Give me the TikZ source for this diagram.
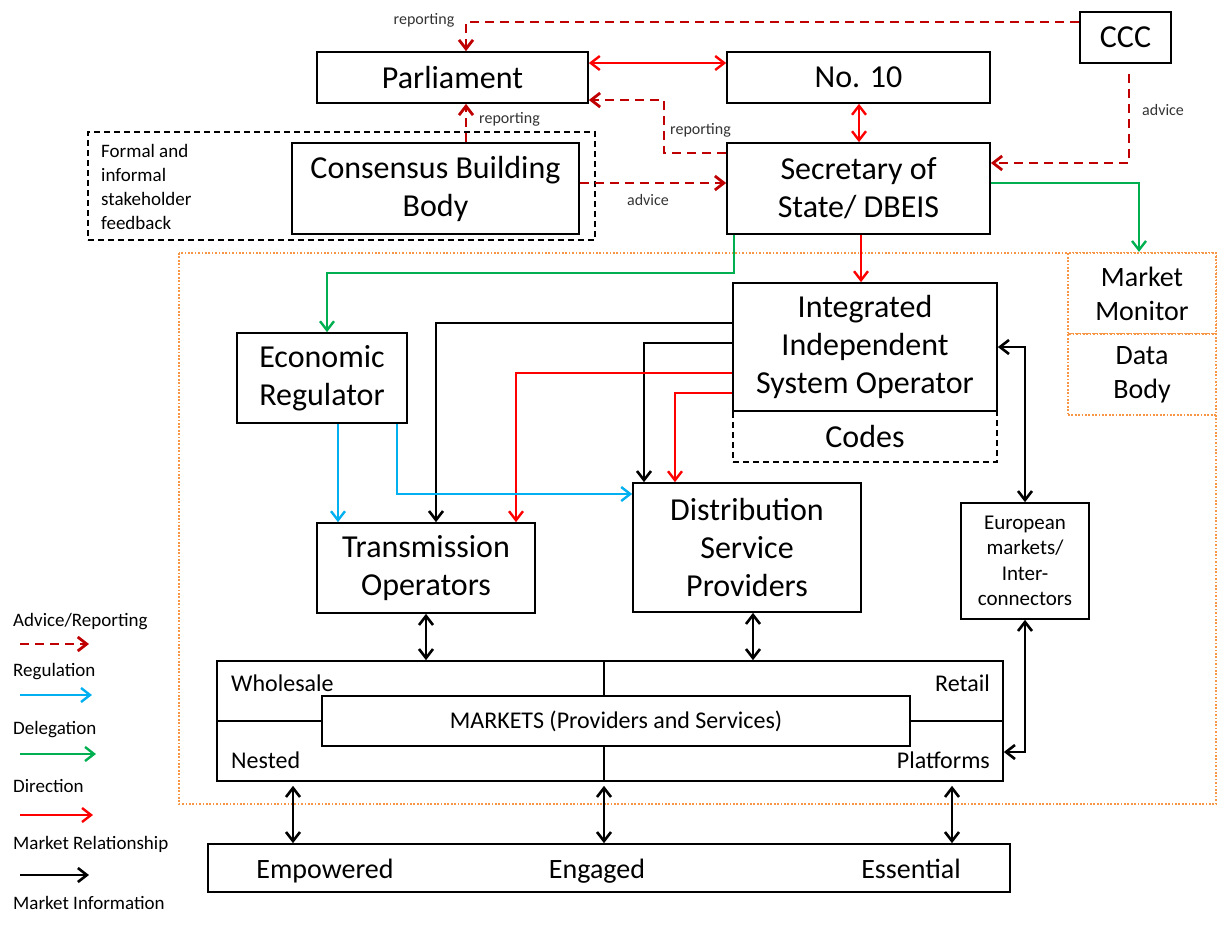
\documentclass[tikz,border=0pt]{standalone}
\usepackage{fontspec}
\setmainfont{Carlito}
\usetikzlibrary{arrows.meta}
\definecolor{advred}{HTML}{C00000}
\definecolor{dirred}{HTML}{FF0000}
\definecolor{regblue}{HTML}{00B0F0}
\definecolor{delgreen}{HTML}{00B050}
\definecolor{dotorange}{HTML}{F79646}
\newcommand\fBig{\fontsize{32}{38}\selectfont}
\newcommand\fMid{\fontsize{28}{34}\selectfont}
\newcommand\fEu{\fontsize{21}{25.5}\selectfont}
\newcommand\fMk{\fontsize{24}{29}\selectfont}
\newcommand\fLg{\fontsize{19}{24}\selectfont}
\newcommand\fSm{\fontsize{16}{19}\selectfont}
\begin{document}
\begin{tikzpicture}[x=1pt,y=-1pt,
  >={Straight Barb[length=9pt,width=14pt]},
  box/.style={draw, line width=1.7pt, inner sep=0pt, align=center, font=\fBig},
  dbox/.style={draw, line width=1.5pt, dash pattern=on 6pt off 4pt, inner sep=0pt, align=center},
  obox/.style={draw=dotorange, line width=2.2pt, dash pattern=on 1.7pt off 1.7pt, inner sep=0pt, align=center, font=\fMid},
  adv/.style={draw=advred, line width=2.8pt, dash pattern=on 9pt off 6pt, ->},
  dirl/.style={draw=dirred, line width=2.4pt, ->},
  regl/.style={draw=regblue, line width=2.4pt, ->},
  dell/.style={draw=delgreen, line width=2.4pt, ->},
  mkl/.style={draw=black, line width=2.6pt, ->},
  lbl/.style={font=\fSm, text=black!80, inner sep=0pt},
  lgd/.style={font=\fLg, anchor=west, inner sep=0pt}
]
\useasboundingbox (0,0) rectangle (1218,932);

% orange dotted region and side boxes
\draw[draw=dotorange, line width=2.2pt, dash pattern=on 1.7pt off 1.7pt] (179,253) rectangle (1216,804);
\node[obox, fill=white, minimum width=148pt, minimum height=81pt] (mm) at (1142,293.5) {Market\\Monitor};
\node[obox, fill=white, minimum width=148pt, minimum height=81pt] (data) at (1142,374.5) {Data\\Body};

% top boxes
\node[box, minimum width=271pt, minimum height=51pt] (parl) at (452.5,77.5) {Parliament};
\node[box, minimum width=263pt, minimum height=51pt] (no10) at (858.5,77.5) {No. 10};
\node[box, minimum width=91pt, minimum height=51pt] (ccc) at (1125.5,37.5) {CCC};
\node[box, minimum width=263pt, minimum height=91pt] (sos) at (858.5,188.5) {Secretary of\\State/ DBEIS};
\node[dbox, minimum width=507pt, minimum height=108pt] (fb) at (341.5,186) {};
\node[font=\fLg, align=left, anchor=west, inner sep=0pt] (fbt) at (101,186.5) {Formal and\\informal\\stakeholder\\feedback};
\node[box, fill=white, minimum width=287pt, minimum height=91pt] (cbb) at (435.5,188.5) {Consensus Building\\Body};

% middle boxes
\node[box, minimum width=170pt, minimum height=90pt] (er) at (322,378) {Economic\\Regulator};
\node[dbox, font=\fBig, minimum width=264pt, minimum height=51pt] (codes) at (865,436.5) {Codes};
\node[box, fill=white, minimum width=264pt, minimum height=128pt] (iso) at (865,347) {Integrated\\Independent\\System Operator};
\node[box, minimum width=228pt, minimum height=129pt] (dsp) at (747,547.5) {Distribution\\Service\\Providers};
\node[box, minimum width=218pt, minimum height=90pt] (to) at (426,568) {Transmission\\Operators};
\node[box, font=\fEu, minimum width=128pt, minimum height=116pt] (euro) at (1025,561) {European\\markets/\\Inter-\\connectors};

% markets
\node[box, minimum width=786pt, minimum height=120pt] (mkt) at (610,721) {};
\draw[line width=1.5pt] (mkt.west) -- (322,721) (910,721) -- (mkt.east);
\draw[line width=1.5pt] (mkt.north -| 604,0) -- (604,696) (604,746) -- (mkt.south -| 604,0);
\node[box, font=\fMk, minimum width=588pt, minimum height=50pt] (mkin) at (616,721) {MARKETS (Providers and Services)};
\node[font=\fMk, anchor=west, inner sep=0pt] (whs) at (231,683) {Wholesale};
\node[font=\fMk, anchor=east, inner sep=0pt] (ret) at (990,683) {Retail};
\node[font=\fMk, anchor=west, inner sep=0pt] (nst) at (231,760) {Nested};
\node[font=\fMk, anchor=east, inner sep=0pt] (plt) at (990,760) {Platforms};

% bottom box
\node[box, minimum width=802pt, minimum height=48pt] (cons) at (609,868) {};
\node[font=\fMid, anchor=base, inner sep=0pt] (emp) at (325,878) {Empowered};
\node[font=\fMid, anchor=base, inner sep=0pt] (eng) at (597,878) {Engaged};
\node[font=\fMid, anchor=base, inner sep=0pt] (ess) at (911,878) {Essential};

% advice / reporting connectors
\draw[adv] (ccc.west |- 0,22) -| (parl.north -| 466,0);
\node[lbl] (l1) at (424,20) {reporting};
\draw[adv] (cbb.north -| 466,0) -- (parl.south -| 466,0);
\node[lbl, anchor=west] (l2) at (479,119) {reporting};
\draw[adv] (sos.west |- 0,153) -| (664,100) -- (parl.east |- 0,100);
\node[lbl, anchor=west] (l3) at (670,130) {reporting};
\draw[adv] (cbb.east |- 0,183) -- (sos.west |- 0,183);
\node[lbl] (l4) at (648,200) {advice};
\draw[adv, shorten <=10pt] (ccc.south -| 1129,0) |- (sos.east |- 0,163);
\node[lbl, anchor=west] (l5) at (1142,110) {advice};

% direction
\draw[dirl, <->] (parl.east |- 0,63) -- (no10.west |- 0,63);
\draw[dirl, <->] (no10.south -| 859,0) -- (sos.north -| 859,0);
\draw[dirl] (sos.south -| 861,0) -- (iso.north -| 861,0);

% delegation
\draw[dell] (sos.east |- 0,183) -| (mm.north -| 1139,0);
\draw[dell] (sos.south -| 734,0) -- (734,273) -| (er.north -| 327,0);

% ISO connectors
\draw[mkl] (iso.west |- 0,323) -| (to.north -| 436,0);
\draw[mkl] (iso.west |- 0,343) -| (dsp.north -| 644,0);
\draw[dirl] (iso.west |- 0,373) -| (to.north -| 516,0);
\draw[dirl] (iso.west |- 0,393) -| (dsp.north -| 675,0);

% regulation
\draw[regl] (er.south -| 338,0) -- (to.north -| 338,0);
\draw[regl] (er.south -| 397,0) |- (dsp.west |- 0,494);

% market relationships
\draw[mkl, <->] (iso.east |- 0,347) -| (euro.north);
\draw[mkl, <->] (euro.south) |- (mkt.east |- 0,752);
\draw[mkl, <->] (to.south -| 426,0) -- (mkt.north -| 426,0);
\draw[mkl, <->] (dsp.south -| 753,0) -- (mkt.north -| 753,0);
\draw[mkl, <->, shorten <=4pt] (mkt.south -| 293,0) -- (cons.north -| 293,0);
\draw[mkl, <->, shorten <=4pt] (mkt.south -| 604,0) -- (cons.north -| 604,0);
\draw[mkl, <->, shorten <=4pt] (mkt.south -| 952,0) -- (cons.north -| 952,0);

% legend
\node[lgd] (g1) at (13,622) {Advice/Reporting};
\coordinate (a1s) at (20,644); \coordinate (a1e) at (89,644);
\draw[adv] (a1s) -- (a1e);
\node[lgd] (g2) at (13,672) {Regulation};
\coordinate (a2s) at (20,695); \coordinate (a2e) at (92,695);
\draw[regl] (a2s) -- (a2e);
\node[lgd] (g3) at (13,730) {Delegation};
\coordinate (a3s) at (20,754); \coordinate (a3e) at (96,754);
\draw[dell] (a3s) -- (a3e);
\node[lgd] (g4) at (13,786) {Direction};
\coordinate (a4s) at (20,815); \coordinate (a4e) at (93,815);
\draw[dirl] (a4s) -- (a4e);
\node[lgd] (g5) at (13,844) {Market Relationship};
\coordinate (a5s) at (20,875); \coordinate (a5e) at (89,875);
\draw[mkl] (a5s) -- (a5e);
\node[lgd] (g6) at (13,903) {Market Information};
\end{tikzpicture}
\end{document}
